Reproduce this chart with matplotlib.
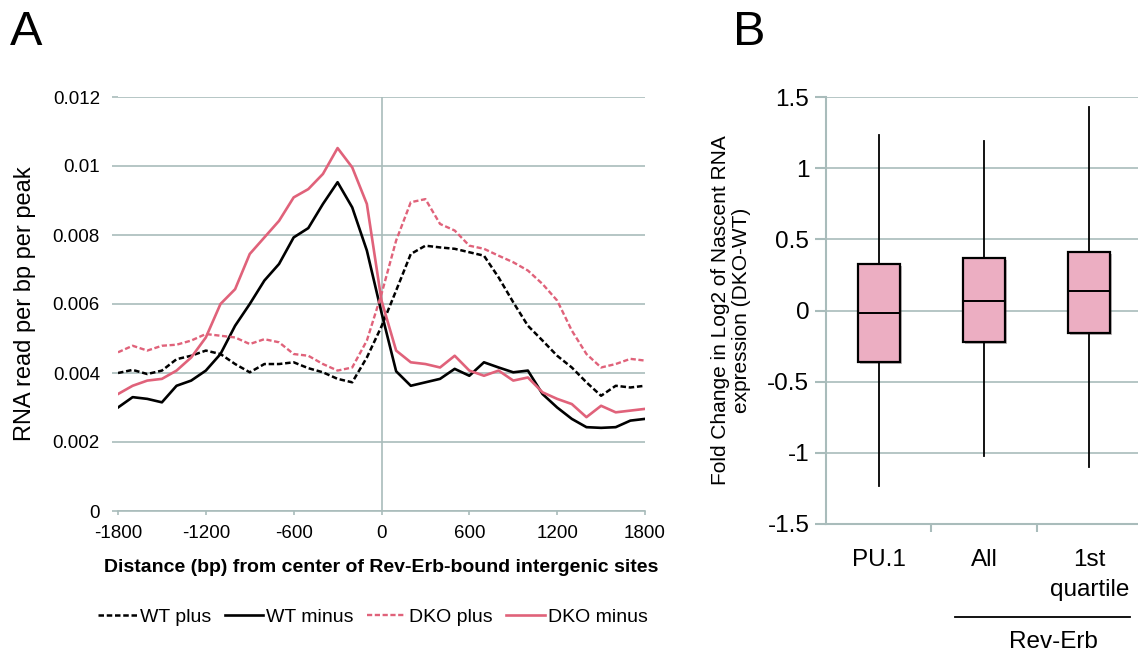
import numpy as np
import matplotlib
matplotlib.use("Agg")
import matplotlib.pyplot as plt
import matplotlib.patheffects as pe

plt.rcParams['font.family'] = ['Liberation Sans', 'DejaVu Sans']
plt.rcParams['axes.unicode_minus'] = False

# %% Panel A data: at 100 bp steps
distance = np.arange(-1800, 1801, 100)

wt_plus = [0.00400, 0.00409, 0.00397, 0.00407, 0.00440, 0.00450, 0.00465, 0.00455, 0.00426, 0.00402,
           0.00426, 0.00426, 0.00431, 0.00414, 0.00402, 0.00383, 0.00373, 0.00445, 0.00535,
           0.00639, 0.00745, 0.00769, 0.00764, 0.00760, 0.00750, 0.00740, 0.00677, 0.00605,
           0.00537, 0.00494, 0.00450, 0.00416, 0.00373, 0.00334, 0.00363, 0.00358, 0.00363]

wt_minus = [0.00300, 0.00330, 0.00325, 0.00315, 0.00363, 0.00378, 0.00407, 0.00455, 0.00537, 0.00600,
            0.00668, 0.00716, 0.00793, 0.00820, 0.00890, 0.00953, 0.00880, 0.00755, 0.00575,
            0.00405, 0.00363, 0.00373, 0.00383, 0.00412, 0.00392, 0.00431, 0.00416, 0.00402,
            0.00407, 0.00339, 0.00300, 0.00267, 0.00243, 0.00241, 0.00243, 0.00262, 0.00267]

dko_plus = [0.00460, 0.00479, 0.00465, 0.00479, 0.00482, 0.00494, 0.00513, 0.00508, 0.00503, 0.00484,
            0.00498, 0.00489, 0.00455, 0.00450, 0.00426, 0.00407, 0.00416, 0.00494, 0.00629,
            0.00784, 0.00895, 0.00904, 0.00832, 0.00813, 0.00769, 0.00760, 0.00740, 0.00721,
            0.00697, 0.00658, 0.00610, 0.00523, 0.00455, 0.00416, 0.00426, 0.00441, 0.00436]

dko_minus = [0.00339, 0.00363, 0.00378, 0.00383, 0.00407, 0.00445, 0.00503, 0.00600, 0.00643, 0.00745,
             0.00793, 0.00841, 0.00909, 0.00933, 0.00977, 0.01052, 0.00996, 0.00890, 0.00610,
             0.00465, 0.00431, 0.00426, 0.00416, 0.00450, 0.00407, 0.00392, 0.00407, 0.00378,
             0.00387, 0.00344, 0.00325, 0.00310, 0.00272, 0.00305, 0.00286, 0.00291, 0.00296]

# %% Panel B data: box plot summary per group
groups = ['PU.1', 'All', '1st\nquartile']
whisk_hi = [1.23, 1.19, 1.43]
q3 = [0.33, 0.37, 0.41]
median = [-0.02, 0.07, 0.14]
q1 = [-0.36, -0.22, -0.16]
whisk_lo = [-1.23, -1.02, -1.10]

grid_col = '#A9BCBB'
red = '#E0627A'

fig = plt.figure(figsize=(11.38, 6.56), dpi=100)

# %% Panel A
ax = fig.add_axes([118 / 1138, 1 - 511 / 656, 527 / 1138, 414 / 656])
ax.plot(distance, wt_plus, color='black', lw=1.8, ls=(0, (2.2, 1.1)), label='WT plus')
ax.plot(distance, wt_minus, color='black', lw=1.9, label='WT minus')
ax.plot(distance, dko_plus, color=red, lw=1.7, ls=(0, (2.2, 1.1)), label='DKO plus')
ax.plot(distance, dko_minus, color=red, lw=1.9, label='DKO minus')

ax.set_xlim(-1800, 1800)
ax.set_ylim(0, 0.012)
ax.set_xticks(np.arange(-1800, 1801, 600))
ax.set_yticks(np.arange(0, 0.0121, 0.002))
ax.set_yticklabels(['0', '0.002', '0.004', '0.006', '0.008', '0.01', '0.012'])
ax.yaxis.grid(True, color=grid_col, lw=1.2)
ax.set_axisbelow(True)
ax.axvline(0, color=grid_col, lw=1.2, zorder=0)
for s in ['top', 'right', 'left']:
    ax.spines[s].set_visible(False)
ax.spines['bottom'].set_color(grid_col)
ax.spines['bottom'].set_linewidth(1.2)
ax.tick_params(axis='x', colors=grid_col, length=3, width=1.2, labelsize=13.5, labelcolor='black', pad=7)
ax.tick_params(axis='y', colors=grid_col, length=4, width=1.2, labelsize=13.5, labelcolor='black', pad=9)
ax.set_ylabel('RNA read per bp per peak', fontsize=17, labelpad=12)
ax.set_xlabel('Distance (bp) from center of Rev-Erb-bound intergenic sites',
              fontsize=14, fontweight='bold', labelpad=12)
ax.legend(loc='center', bbox_to_anchor=(373 / 1138, 1 - 617 / 656), bbox_transform=fig.transFigure,
          ncol=4, frameon=False, fontsize=14, handlelength=2.0, handletextpad=0.15,
          columnspacing=0.7)

# %% Panel B
bx = fig.add_axes([826 / 1138, 1 - 524 / 656, 316 / 1138, 427 / 656])
stats = [dict(med=m, q1=a, q3=b, whislo=lo, whishi=hi, label=g)
         for g, lo, a, m, b, hi in zip(groups, whisk_lo, q1, median, q3, whisk_hi)]
parts = bx.bxp(stats, positions=[1, 2, 3], widths=0.4, showcaps=False, showfliers=False,
               patch_artist=True,
               boxprops=dict(facecolor='#ECAEC2', edgecolor='black', lw=1.6),
               medianprops=dict(color='black', lw=1.4),
               whiskerprops=dict(color='black', lw=1.3), zorder=3)
for b in parts['boxes']:
    b.set_path_effects([pe.SimplePatchShadow(offset=(1.5, -1.5), alpha=0.35), pe.Normal()])
bx.set_xlim(0.5, 3.5)
bx.set_ylim(-1.5, 1.5)
bx.set_yticks(np.arange(-1.5, 1.51, 0.5))
bx.set_yticklabels(['-1.5', '-1', '-0.5', '0', '0.5', '1', '1.5'])
bx.set_xticks([1.5, 2.5], minor=True)
bx.yaxis.grid(True, color=grid_col, lw=1.2)
bx.set_axisbelow(True)
for s in ['top', 'right']:
    bx.spines[s].set_visible(False)
for s in ['left', 'bottom']:
    bx.spines[s].set_color(grid_col)
    bx.spines[s].set_linewidth(1.5)
bx.tick_params(axis='x', which='major', length=0, labelsize=17.5, pad=18)
bx.tick_params(axis='x', which='minor', length=6, width=1.5, colors=grid_col)
bx.tick_params(axis='y', colors=grid_col, length=8, width=1.5, labelsize=17.5, labelcolor='black', pad=4)
for t in bx.get_xticklabels():
    t.set_verticalalignment('top')
    t.set_linespacing(1.45)
bx.set_ylabel('Fold Change in Log2 of Nascent RNA\nexpression (DKO-WT)', fontsize=15,
              labelpad=12, linespacing=1.1)

# Rev-Erb bracket under the last two groups
fig.add_artist(plt.Line2D([955 / 1138, 1130 / 1138], [1 - 617 / 656, 1 - 617 / 656],
                          color='black', lw=1.3))
fig.text(1053 / 1138, 1 - 642 / 656, 'Rev-Erb', fontsize=17.5, ha='center', va='center')

# %% Panel letters
fig.text(10 / 1138, 1 - 10 / 656, 'A', fontsize=35, ha='left', va='top')
fig.text(733 / 1138, 1 - 10 / 656, 'B', fontsize=35, ha='left', va='top')

fig.savefig('out.png', dpi=100)
